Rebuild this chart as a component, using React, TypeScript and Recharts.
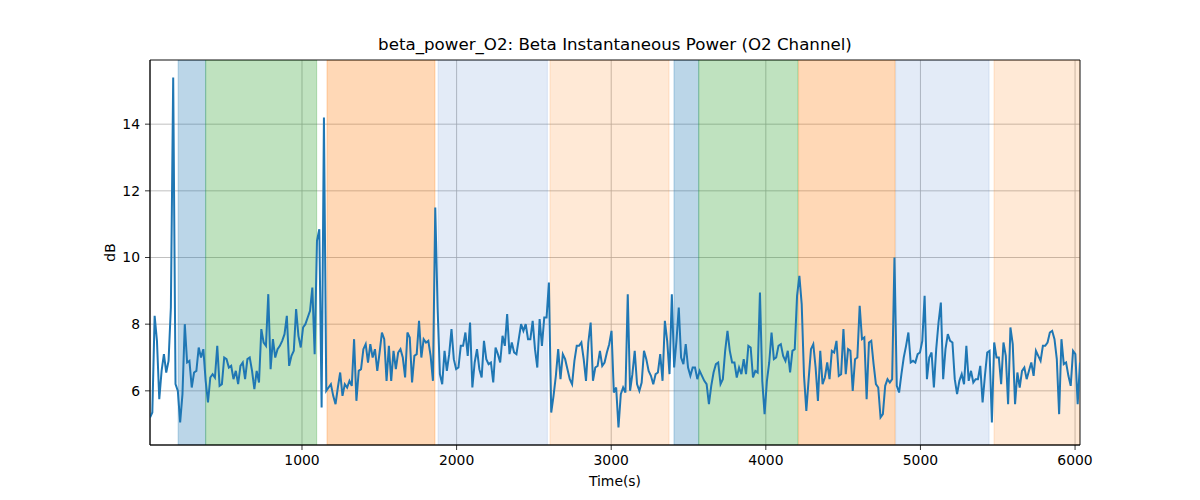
import React from 'react';
import { LineChart, Line, XAxis, YAxis, CartesianGrid, ReferenceArea } from 'recharts';

// Sampling of the beta power trace (seconds)
const SAMPLE_START = 17;
const SAMPLE_STEP = 15;

// Beta instantaneous power, O2 channel (dB), one value per sample
const betaPowerDb: number[] = [
  5.2, 5.35, 8.25, 7.5, 5.75, 6.6, 7.1, 6.55, 6.9, 8.5,
  15.4, 6.2, 6.0, 5.05, 5.9, 8.0, 6.85, 6.9, 6.1, 6.55,
  6.6, 7.3, 7.0, 7.25, 6.3, 5.65, 6.4, 6.5, 6.4, 7.35,
  6.15, 6.2, 7.0, 6.95, 6.7, 6.75, 6.35, 6.6, 6.2, 6.75,
  6.85, 6.35, 6.95, 7.0, 6.6, 6.05, 6.6, 6.25, 7.85, 7.45,
  7.35, 8.9, 6.65, 7.55, 7.0, 7.25, 7.35, 7.5, 7.7, 8.25,
  6.75, 7.05, 7.2, 8.45, 7.65, 7.3, 7.9, 8.0, 8.2, 8.4,
  9.1, 7.1, 10.5, 10.85, 5.5, 14.2, 6.0, 6.1, 6.2, 5.85,
  5.6, 6.1, 6.55, 5.85, 6.2, 6.1, 6.3, 6.15, 7.55, 5.7,
  6.6, 6.65, 7.25, 7.4, 6.85, 7.4, 7.0, 7.25, 6.6, 7.15,
  7.75, 7.55, 6.3, 7.35, 6.3, 7.2, 6.65, 7.15, 7.25, 7.0,
  6.4, 7.75, 7.6, 6.25, 7.05, 7.1, 8.1, 7.0, 7.55, 7.45,
  7.5, 7.05, 6.3, 11.5, 8.5, 6.5, 6.2, 7.2, 6.6, 7.1,
  7.85, 6.95, 6.65, 6.7, 7.35, 7.35, 7.75, 7.05, 8.05, 6.1,
  6.85, 7.25, 6.65, 6.4, 7.5, 6.95, 6.8, 6.85, 6.25, 7.3,
  7.1, 6.85, 7.65, 7.35, 8.3, 7.1, 7.45, 7.15, 7.1, 7.55,
  8.0, 7.8, 8.0, 7.55, 7.55, 8.1, 7.25, 6.7, 8.15, 7.35,
  8.2, 8.2, 9.25, 5.35, 5.85, 6.45, 7.25, 6.35, 7.1, 6.95,
  6.65, 6.35, 6.2, 6.9, 7.35, 7.35, 7.45, 6.95, 6.3, 7.45,
  8.05, 6.3, 6.7, 6.75, 7.2, 6.75, 6.85, 7.15, 7.4, 7.8,
  5.95, 6.1, 4.9, 5.9, 6.1, 5.95, 8.9, 6.0, 6.5, 7.2,
  6.2, 6.0, 6.25, 7.2, 6.95, 6.6, 6.45, 6.2, 6.5, 6.55,
  7.1, 6.3, 8.1, 7.5, 6.5, 8.9, 6.7, 7.5, 8.5, 7.0,
  6.8, 7.4, 6.7, 6.45, 6.7, 6.7, 6.35, 6.6, 6.45, 6.3,
  6.2, 5.6, 6.15, 6.55, 6.8, 6.85, 6.2, 6.35, 7.2, 7.8,
  7.2, 6.85, 6.85, 6.4, 6.7, 6.5, 6.95, 6.5, 7.35, 7.3,
  6.4, 6.6, 6.55, 8.95, 6.3, 5.3, 6.3, 6.85, 7.75, 6.95,
  7.0, 7.35, 7.4, 7.05, 6.9, 7.2, 6.55, 7.2, 7.25, 8.85,
  9.45, 8.6, 6.45, 5.4, 6.35, 7.25, 7.4, 6.7, 5.7, 7.2,
  6.2, 6.4, 6.85, 6.35, 7.2, 7.15, 7.5, 6.45, 6.5, 7.85,
  6.5, 7.25, 7.2, 6.0, 6.95, 7.0, 8.55, 7.55, 7.6, 5.75,
  7.45, 7.5, 6.8, 6.2, 6.1, 5.2, 5.3, 6.15, 6.35, 6.25,
  6.35, 10.0, 6.15, 5.95, 6.5, 7.0, 7.35, 7.75, 6.85, 6.9,
  6.85, 7.1, 7.15, 7.5, 8.85, 6.35, 7.0, 7.15, 6.1, 7.25,
  8.05, 8.65, 6.35, 7.25, 7.7, 7.5, 7.45, 6.35, 5.9, 6.3,
  6.5, 6.2, 7.35, 6.3, 6.6, 6.25, 6.35, 6.35, 6.75, 5.65,
  6.45, 7.15, 7.2, 5.05, 7.45, 7.0, 7.0, 6.2, 7.45, 7.05,
  5.6, 7.9, 7.4, 5.6, 6.55, 6.1, 6.6, 6.7, 6.35, 6.6,
  6.85, 6.45, 7.2, 7.05, 6.9, 7.35, 7.35, 7.45, 7.75, 7.8,
  7.55, 6.95, 5.3, 7.55, 6.8, 6.85, 6.45, 6.15, 7.2, 7.1,
  5.6, 6.85,
];

// Shaded task segments (seconds)
const segmentStarts = [199, 377, 1162, 1880, 2604, 3406, 3566, 4212, 4840, 5476];
const segmentEnds = [377, 1095, 1860, 2587, 3374, 3566, 4208, 4836, 5444, 6032];
const segmentKinds = ['blue', 'green', 'orange', 'lightblue', 'lightorange', 'blue', 'green', 'orange', 'lightblue', 'lightorange'];

// Axis ticks
const xTicks = [1000, 2000, 3000, 4000, 5000, 6000];
const yTicks = [6, 8, 10, 12, 14];
const X_DOMAIN: [number, number] = [17, 6032];
const Y_DOMAIN: [number, number] = [4.375, 15.925];

const kindStyle: Record<string, { color: string; opacity: number }> = {
  blue: { color: '#1f77b4', opacity: 0.3 },
  green: { color: '#2ca02c', opacity: 0.3 },
  orange: { color: '#ff7f0e', opacity: 0.3 },
  lightblue: { color: '#3a6fc4', opacity: 0.14 },
  lightorange: { color: '#ff7f0e', opacity: 0.17 },
};

const data = betaPowerDb.map((v, i) => ({ t: SAMPLE_START + i * SAMPLE_STEP, v }));

const FONT = 'DejaVu Sans, sans-serif';
const tickStyle = { fill: '#000', fontSize: 13.9, fontFamily: FONT };

export default function App() {
  return (
    <div style={{ position: 'absolute', left: 0, top: 0, width: 1200, height: 500, background: '#fff' }}>
      <div
        style={{
          position: 'absolute',
          left: 150,
          top: 35,
          width: 930,
          textAlign: 'center',
          fontFamily: FONT,
          fontSize: 16.67,
          lineHeight: '20px',
          color: '#000',
        }}
      >
        beta_power_O2: Beta Instantaneous Power (O2 Channel)
      </div>
      <LineChart width={1200} height={500} data={data} margin={{ top: 60, right: 120, bottom: 0, left: 0 }}>
        <CartesianGrid stroke="#b0b0b0" strokeWidth={0.8} />
        {segmentStarts.map((s, i) => {
          const st = kindStyle[segmentKinds[i]];
          return (
            <ReferenceArea
              key={i}
              x1={s}
              x2={segmentEnds[i]}
              y1={Y_DOMAIN[0]}
              y2={Y_DOMAIN[1]}
              fill={st.color}
              fillOpacity={st.opacity}
              stroke={st.color}
              strokeOpacity={st.opacity}
              strokeWidth={1}
              ifOverflow="hidden"
            />
          );
        })}
        <XAxis
          type="number"
          dataKey="t"
          domain={X_DOMAIN}
          ticks={xTicks}
          allowDataOverflow
          height={55}
          tick={tickStyle}
          tickSize={5}
          tickMargin={5}
          axisLine={{ stroke: '#000', strokeWidth: 0.8 }}
          tickLine={{ stroke: '#000', strokeWidth: 0.8 }}
          label={{
            content: (props: any) => {
              const vb = props.viewBox || {};
              return (
                <text
                  x={vb.x + vb.width / 2}
                  y={vb.y + 36}
                  textAnchor="middle"
                  dominantBaseline="central"
                  fontFamily={FONT}
                  fontSize={13.9}
                  fill="#000"
                >
                  Time(s)
                </text>
              );
            },
          }}
        />
        <YAxis
          type="number"
          domain={Y_DOMAIN}
          ticks={yTicks}
          allowDataOverflow
          width={150}
          tick={tickStyle}
          tickSize={5}
          tickMargin={5}
          axisLine={{ stroke: '#000', strokeWidth: 0.8 }}
          tickLine={{ stroke: '#000', strokeWidth: 0.8 }}
          label={{
            content: (props: any) => {
              const vb = props.viewBox || {};
              const cx = vb.x + vb.width - 40;
              const cy = vb.y + vb.height / 2;
              return (
                <text
                  x={cx}
                  y={cy}
                  transform={`rotate(-90, ${cx}, ${cy})`}
                  textAnchor="middle"
                  dominantBaseline="central"
                  fontFamily={FONT}
                  fontSize={13.9}
                  fill="#000"
                >
                  dB
                </text>
              );
            },
          }}
        />
        <Line
          type="linear"
          dataKey="v"
          stroke="#1f77b4"
          strokeWidth={2}
          dot={false}
          isAnimationActive={false}
        />
        <ReferenceArea
          x1={X_DOMAIN[0]}
          x2={X_DOMAIN[1]}
          y1={Y_DOMAIN[0]}
          y2={Y_DOMAIN[1]}
          fill="none"
          stroke="#000"
          strokeWidth={0.8}
        />
      </LineChart>
    </div>
  );
}
